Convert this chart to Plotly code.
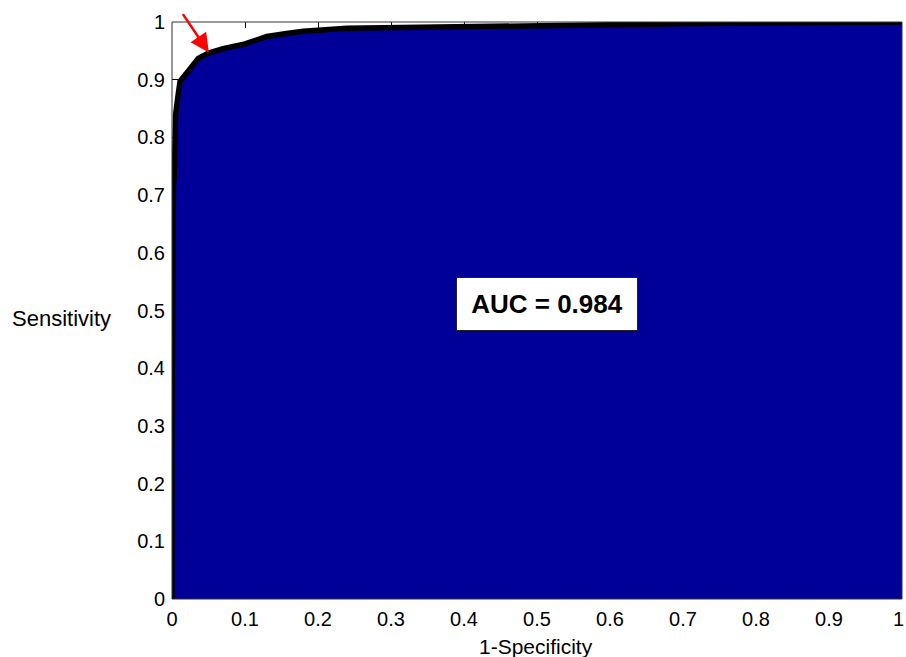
import plotly.graph_objects as go

# ROC curve values
fpr = [0, 0, 0.002, 0.003, 0.005, 0.006, 0.008, 0.011, 0.018, 0.027, 0.036,
       0.05, 0.07, 0.1, 0.13, 0.157, 0.18, 0.24, 0.3, 0.4, 0.5, 0.7, 1.0]
tpr = [0, 0.3, 0.72, 0.73, 0.84, 0.86, 0.87, 0.897, 0.908, 0.925, 0.937,
       0.946, 0.954, 0.962, 0.975, 0.98, 0.984, 0.989, 0.99, 0.993, 0.995, 0.997, 1.0]

tick_vals = [0, 0.1, 0.2, 0.3, 0.4, 0.5, 0.6, 0.7, 0.8, 0.9, 1]
tick_text = ["0", "0.1", "0.2", "0.3", "0.4", "0.5", "0.6", "0.7", "0.8", "0.9", "1"]

auc_text = "AUC = 0.984"
x_label = "1-Specificity"
y_label = "Sensitivity"
arrow_point = (0.0505, 0.947)

fig = go.Figure()
fig.add_trace(go.Scatter(
    x=fpr, y=tpr, mode="lines",
    line=dict(color="black", width=5.5),
    fill="tozeroy", fillcolor="rgb(0,0,153)",
    hoverinfo="skip", showlegend=False,
))

FONT = "Arial, Liberation Sans, sans-serif"
font_main = dict(family=FONT, size=20, color="black")

axis_common = dict(
    range=[0, 1],
    ticks="inside", ticklen=6, tickwidth=1, tickcolor="black",
    showline=False, mirror="ticks", showgrid=False, zeroline=False,
    layer="below traces", tickfont=font_main,
)

fig.update_layout(
    width=906, height=657,
    margin=dict(l=172, r=4, t=22, b=58),
    paper_bgcolor="white", plot_bgcolor="white",
    xaxis=dict(**axis_common, tickvals=tick_vals[:-1], ticktext=tick_text[:-1]),
    yaxis=dict(**axis_common, tickvals=tick_vals, ticktext=tick_text),
    showlegend=False,
)
fig.update_xaxes(ticklabelstandoff=6)
fig.update_yaxes(ticklabelstandoff=6)

# tick at x = 1 (top) and its label, which sits at the page edge
fig.add_shape(type="line", xref="x", yref="paper", x0=tick_vals[-1], x1=tick_vals[-1],
              y0=1, y1=0.99, line=dict(color="black", width=1))
fig.add_annotation(
    x=tick_vals[-1], y=0, xref="x", yref="paper", yshift=-7, xshift=4,
    text=tick_text[-1], showarrow=False, font=font_main,
    xanchor="right", yanchor="top",
)

# frame
fig.add_shape(type="rect", xref="paper", yref="paper", x0=0, y0=0, x1=1, y1=1,
              line=dict(color="#333333", width=1), layer="above")

fig.add_annotation(
    x=0.514, y=0.511, xref="paper", yref="paper",
    text="<b>" + auc_text + "</b>", showarrow=False,
    font=dict(family=FONT, size=26, color="black"),
    bgcolor="white", bordercolor="#222222", borderwidth=1,
    width=178, height=50, align="center", valign="middle",
)

fig.add_annotation(
    x=arrow_point[0], y=arrow_point[1], xref="x", yref="y",
    ax=-27, ay=-40, showarrow=True, text="",
    arrowhead=2, arrowsize=1.5, arrowwidth=2.5, arrowcolor="red",
)

fig.add_annotation(
    x=0.499, y=-0.083, xref="paper", yref="paper",
    text=x_label, showarrow=False, font=dict(family=FONT, size=21, color="black"),
    xanchor="center", yanchor="middle",
)
fig.add_annotation(
    x=-0.222, y=0.487, xref="paper", yref="paper",
    text=y_label, showarrow=False, font=dict(family=FONT, size=22, color="black"),
    xanchor="left", yanchor="middle",
)

fig.write_html(
    "out.html",
    config={"displayModeBar": False},
    post_script="document.body.style.margin='0';document.body.style.overflow='hidden';",
)
